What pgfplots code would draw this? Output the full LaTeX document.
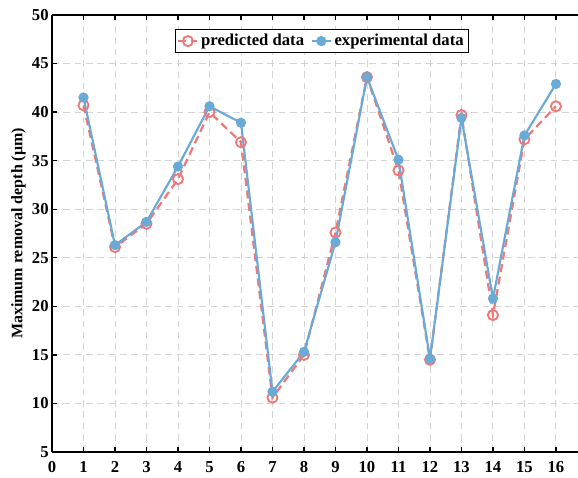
\documentclass[border=0pt]{standalone}
\usepackage{fontspec}
\setmainfont{Liberation Serif}
\usepackage{pgfplots}
\pgfplotsset{compat=1.18}
\definecolor{predred}{RGB}{240,120,120}
\definecolor{expblue}{RGB}{105,170,215}
\definecolor{gridgray}{RGB}{212,212,212}
\begin{document}
\begin{tikzpicture}
\useasboundingbox (-39pt,-19.5pt) rectangle (394.5pt,339pt);
\begin{axis}[
  at={(0pt,0pt)}, anchor=south west,
  scale only axis,
  width=394.5pt, height=327.75pt,
  xmin=0, xmax=16.7, ymin=5, ymax=50,
  xtick={0,1,...,16}, ytick={5,10,...,50},
  separate axis lines,
  axis x line*=box, axis y line*=left,
  axis line style={line width=1.3pt, black},
  tick style={line width=1pt, black},
  major tick length=4pt,
  tick align=inside,
  xtick pos=both,
  grid=major,
  major grid style={gridgray, dash pattern=on 5pt off 3.5pt, line width=0.7pt},
  /pgf/number format/assume math mode=true,
  ticklabel style={font=\fontsize{12.5}{14}\selectfont\bfseries},
  xticklabel style={yshift=-3.5pt},
  yticklabel style={xshift=1pt},
  ylabel={Maximum removal depth (μm)},
  every axis y label/.style={at={(axis description cs:-0.0634,0.5)}, rotate=90, anchor=center,
    font=\fontsize{12}{14}\selectfont\bfseries},
  legend style={at={(0.513,0.968)}, anchor=north, legend columns=2,
    draw=black, line width=1pt, font=\fontsize{12.5}{14}\selectfont\bfseries,
    inner sep=1.5pt, /tikz/every even column/.append style={column sep=3pt}},
  legend image code/.code={%
    \draw[mark repeat=2,mark phase=2,#1] plot coordinates {(0cm,0cm) (0.25cm,0cm) (0.5cm,0cm)};},
]
\addplot[predred, line width=1.7pt, dash pattern=on 6pt off 3.5pt,
  mark=o, mark size=3.8pt, mark options={solid, line width=1.4pt, fill=none}]
coordinates {
(1,40.7) (2,26.1) (3,28.5) (4,33.1) (5,40.0) (6,36.9) (7,10.6) (8,15.0)
(9,27.6) (10,43.6) (11,34.0) (12,14.5) (13,39.7) (14,19.1) (15,37.2) (16,40.6)
};
\addlegendentry{predicted data}
\addplot[expblue, line width=1.6pt,
  mark=*, mark size=3pt, mark options={solid, fill=expblue, draw=expblue}]
coordinates {
(1,41.5) (2,26.3) (3,28.7) (4,34.4) (5,40.6) (6,38.9) (7,11.2) (8,15.3)
(9,26.6) (10,43.6) (11,35.1) (12,14.6) (13,39.4) (14,20.8) (15,37.6) (16,42.9)
};
\addlegendentry{experimental data}
\end{axis}
\end{tikzpicture}
\end{document}
